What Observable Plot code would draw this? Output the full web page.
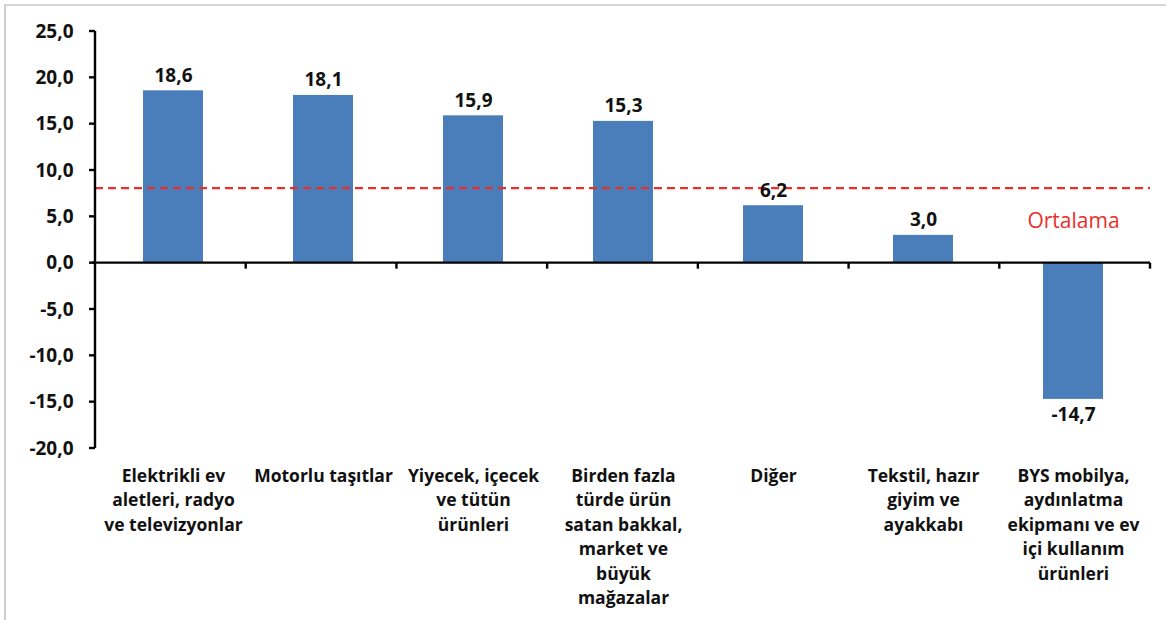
<!DOCTYPE html>
<html>
<head>
<meta charset="utf-8">
<script src="https://cdn.jsdelivr.net/npm/d3@7"></script>
<script src="https://cdn.jsdelivr.net/npm/@observablehq/plot@0.6"></script>
<style>
  html, body { margin: 0; padding: 0; background: #fff; }
  #wrap { position: relative; width: 1166px; height: 620px; overflow: hidden; }
  #frame { position: absolute; left: 4px; top: 4px; width: 1170px; height: 630px;
           border-left: 2px solid #cfcfcf; border-top: 2px solid #d6d6d6; pointer-events: none; }
</style>
</head>
<body>
<div id="wrap"><div id="frame"></div></div>
<script>
const categories = [
  "Elektrikli ev\naletleri, radyo\nve televizyonlar",
  "Motorlu taşıtlar",
  "Yiyecek, içecek\nve tütün\nürünleri",
  "Birden fazla\ntürde ürün\nsatan bakkal,\nmarket ve\nbüyük\nmağazalar",
  "Diğer",
  "Tekstil, hazır\ngiyim ve\nayakkabı",
  "BYS mobilya,\naydınlatma\nekipmanı ve ev\niçi kullanım\nürünleri"
];
const values = [18.6, 18.1, 15.9, 15.3, 6.2, 3.0, -14.7];
const average = 8.1;
const averageLabel = "Ortalama";
const yTicks = [-20, -15, -10, -5, 0, 5, 10, 15, 20, 25];

const data = categories.map((c, i) => ({cat: c, value: values[i]}));
const fmt = v => v.toFixed(1).replace(".", ",");
const FONT = "'Open Sans', Lato, sans-serif";
const BAR = "#4a7ebb";
const RED = "#e8302a";

// axis lines and Excel-like category boundary ticks drawn from the scales
function axesMark(index, scales, values_, dims) {
  const g = d3.create("svg:g");
  const y = scales.y;
  const left = dims.marginLeft, right = dims.width - dims.marginRight;
  const n = categories.length;
  const step = (right - left) / n;
  const y0 = y(0);
  g.append("line").attr("x1", left).attr("x2", left)
    .attr("y1", y(d3.max(yTicks))).attr("y2", y(d3.min(yTicks)))
    .attr("stroke", "#000").attr("stroke-width", 2.4);
  g.append("line").attr("x1", left - 3).attr("x2", right)
    .attr("y1", y0).attr("y2", y0)
    .attr("stroke", "#000").attr("stroke-width", 2.4);
  for (let i = 1; i <= n; i++) {
    const bx = left + step * i;
    g.append("line").attr("x1", bx).attr("x2", bx)
      .attr("y1", y0).attr("y2", y0 + 6)
      .attr("stroke", "#000").attr("stroke-width", 2.4);
  }
  for (const t of yTicks) {
    g.append("line").attr("x1", left - 6).attr("x2", left)
      .attr("y1", y(t)).attr("y2", y(t))
      .attr("stroke", "#000").attr("stroke-width", 2.4);
  }
  return g.node();
}

const plot = Plot.plot({
  width: 1166,
  height: 620,
  marginLeft: 95,
  marginRight: 16,
  marginTop: 31,
  marginBottom: 172,
  style: {fontFamily: FONT, background: "transparent", overflow: "visible"},
  x: {domain: categories, paddingInner: 0.6, paddingOuter: 0.3, axis: null},
  y: {domain: [-20, 25], axis: null},
  marks: [
    Plot.barY(data, {x: "cat", y: "value", fill: BAR}),
    Plot.ruleY([average], {stroke: RED, strokeWidth: 2.2, strokeDasharray: "8,5"}),
    axesMark,
    Plot.axisY(yTicks, {
      tickSize: 0, tickPadding: 22, tickFormat: fmt,
      fontSize: 19, fontWeight: "bold", fill: "#111", label: null
    }),
    Plot.axisX(categories, {
      anchor: "bottom", tickSize: 0, tickPadding: 16, label: null,
      fontSize: 17.5, fontWeight: "bold", fill: "#111", lineHeight: 1.4
    }),
    Plot.text(data.filter(d => d.value >= 0), {
      x: "cat", y: "value", text: d => fmt(d.value), lineAnchor: "bottom", dy: -9,
      fontSize: 19, fontWeight: "bold", fill: "#111"
    }),
    Plot.text(data.filter(d => d.value < 0), {
      x: "cat", y: "value", text: d => fmt(d.value), lineAnchor: "top", dy: 8,
      fontSize: 19, fontWeight: "bold", fill: "#111"
    }),
    Plot.text([average], {
      x: () => categories[categories.length - 1], y: d => d, text: () => averageLabel,
      dy: 33, fontSize: 21, fill: RED
    })
  ]
});
document.getElementById("wrap").prepend(plot);
</script>
</body>
</html>
